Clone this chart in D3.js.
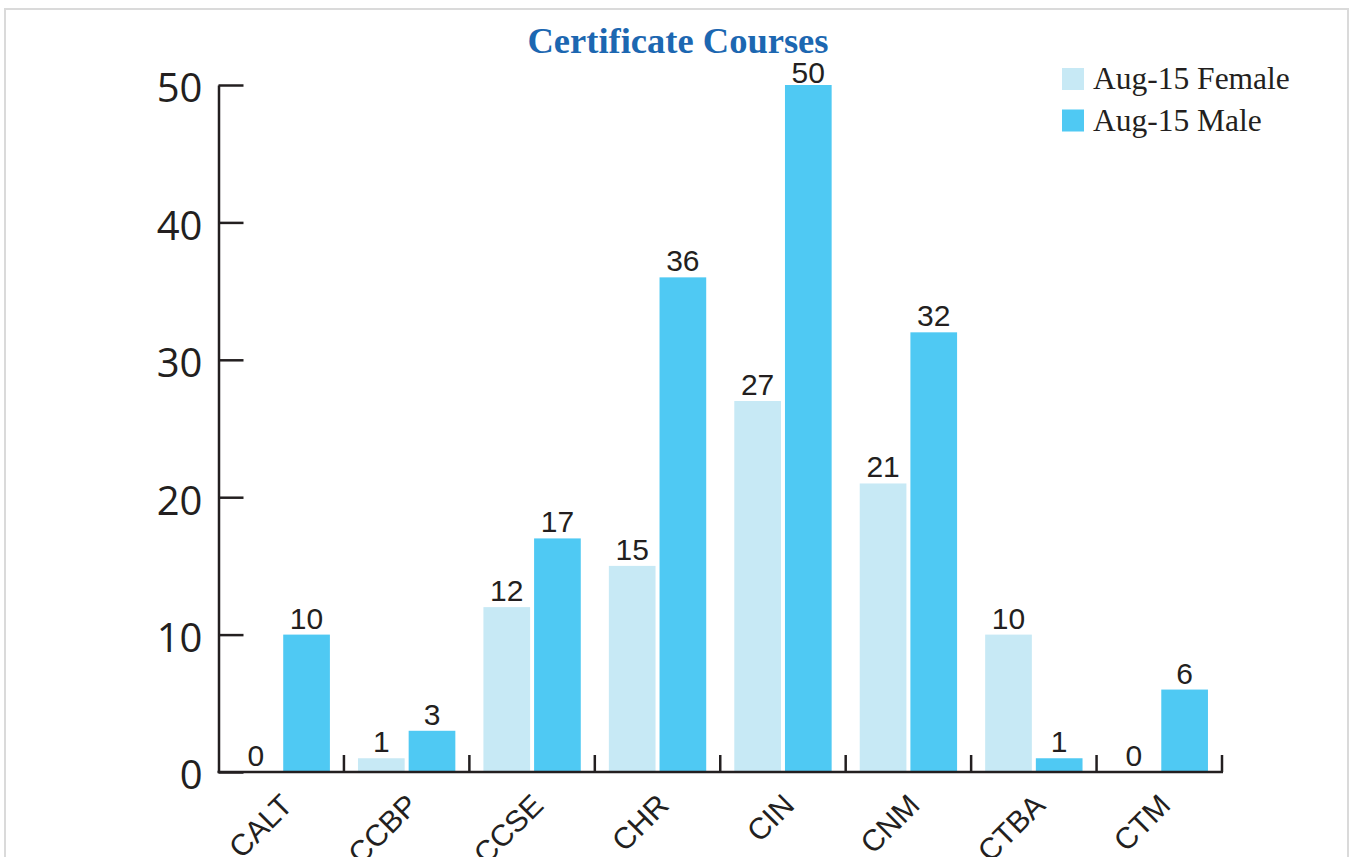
<!DOCTYPE html>
<html>
<head>
<meta charset="utf-8">
<script src="https://cdn.jsdelivr.net/npm/d3@7"></script>
<style>
  html, body { margin: 0; padding: 0; background: #fff; }
  svg { display: block; }
</style>
</head>
<body>
<svg id="chart" width="1352" height="857"></svg>
<script>
const categories = ["CALT", "CCBP", "CCSE", "CHR", "CIN", "CNM", "CTBA", "CTM"];
const seriesNames = ["Aug-15 Female", "Aug-15 Male"];
const femaleValues = [0, 1, 12, 15, 27, 21, 10, 0];
const maleValues = [10, 3, 17, 36, 50, 32, 1, 6];
const yTicks = [0, 10, 20, 30, 40, 50];
const colors = ["#c7e9f5", "#4fc9f3"];
const titleText = "Certificate Courses";

const svg = d3.select("#chart");
const ink = "#231f20";

// frame
svg.append("rect").attr("x", 5).attr("y", 9).attr("width", 1343).attr("height", 880)
  .attr("fill", "none").attr("stroke", "#dadada").attr("stroke-width", 2);

const x0 = d3.scaleBand().domain(categories).range([218.5, 1222]).padding(0);
const x1 = d3.scaleBand().domain(seriesNames).range([0, x0.bandwidth()])
  .paddingInner(0.079).paddingOuter(0.277);
const y = d3.scaleLinear().domain([0, 50]).range([772, 85]);

const data = categories.map((c, i) => ({ cat: c, vals: [femaleValues[i], maleValues[i]] }));

// bars
const groups = svg.append("g").selectAll("g").data(data).join("g")
  .attr("transform", d => `translate(${x0(d.cat)},0)`);
groups.selectAll("rect").data(d => d.vals.map((v, j) => ({ v, s: seriesNames[j], j })))
  .join("rect")
  .attr("x", d => x1(d.s))
  .attr("width", x1.bandwidth())
  .attr("y", d => y(d.v))
  .attr("height", d => y(0) - y(d.v))
  .attr("fill", d => colors[d.j]);
groups.selectAll("text").data(d => d.vals.map((v, j) => ({ v, s: seriesNames[j], j })))
  .join("text")
  .attr("x", d => x1(d.s) + x1.bandwidth() / 2)
  .attr("y", d => Math.max(y(d.v) - 6, 83))
  .attr("text-anchor", "middle")
  .attr("font-family", "Liberation Sans, Arial, sans-serif")
  .attr("font-size", 30)
  .attr("fill", ink)
  .text(d => d.v);

// y axis
const yAxis = d3.axisLeft(y).tickValues(yTicks).tickSizeInner(-25).tickSizeOuter(0).tickPadding(16);
const gy = svg.append("g").attr("transform", "translate(218.5,0)").call(yAxis);
gy.select(".domain").attr("stroke", ink).attr("stroke-width", 2.5);
gy.selectAll(".tick line").attr("stroke", ink).attr("stroke-width", 2.5);
gy.selectAll(".tick text").attr("font-family", "Open Sans, sans-serif").attr("font-size", 40)
  .attr("fill", ink).attr("dy", "0.42em");

// x axis
const gx = svg.append("g");
const xr = x0.range();
gx.append("line").attr("x1", xr[0] - 1).attr("x2", xr[1] + 1).attr("y1", y(0)).attr("y2", y(0))
  .attr("stroke", ink).attr("stroke-width", 2.5);
const edges = categories.map(c => x0(c)).concat([xr[1]]);
gx.selectAll("line.tk").data(edges.slice(1)).join("line").attr("class", "tk")
  .attr("x1", d => d).attr("x2", d => d).attr("y1", y(0)).attr("y2", y(0) - 17)
  .attr("stroke", ink).attr("stroke-width", 2.5);
gx.selectAll("text").data(categories).join("text")
  .attr("transform", c => `translate(${x0(c) + x0.bandwidth() / 2 + 13},${y(0) + 35}) rotate(-45)`)
  .attr("text-anchor", "end")
  .attr("font-family", "Liberation Sans, Arial, sans-serif")
  .attr("font-size", 30)
  .attr("fill", ink)
  .text(c => c);

// title
svg.append("text").attr("x", 678).attr("y", 53).attr("text-anchor", "middle")
  .attr("font-family", "Liberation Serif, Times New Roman, serif")
  .attr("font-weight", "bold").attr("font-size", 36.5).attr("fill", "#1c67b1")
  .text(titleText);

// legend
const lg = svg.append("g").selectAll("g").data(seriesNames).join("g")
  .attr("transform", (d, i) => `translate(1062,${68 + i * 41.5})`);
lg.append("rect").attr("width", 22).attr("height", 22).attr("fill", (d, i) => colors[i]);
lg.append("text").attr("x", 31).attr("y", 21)
  .attr("font-family", "Liberation Serif, Times New Roman, serif")
  .attr("font-size", 31.5).attr("fill", ink).text(d => d);
</script>
</body>
</html>
